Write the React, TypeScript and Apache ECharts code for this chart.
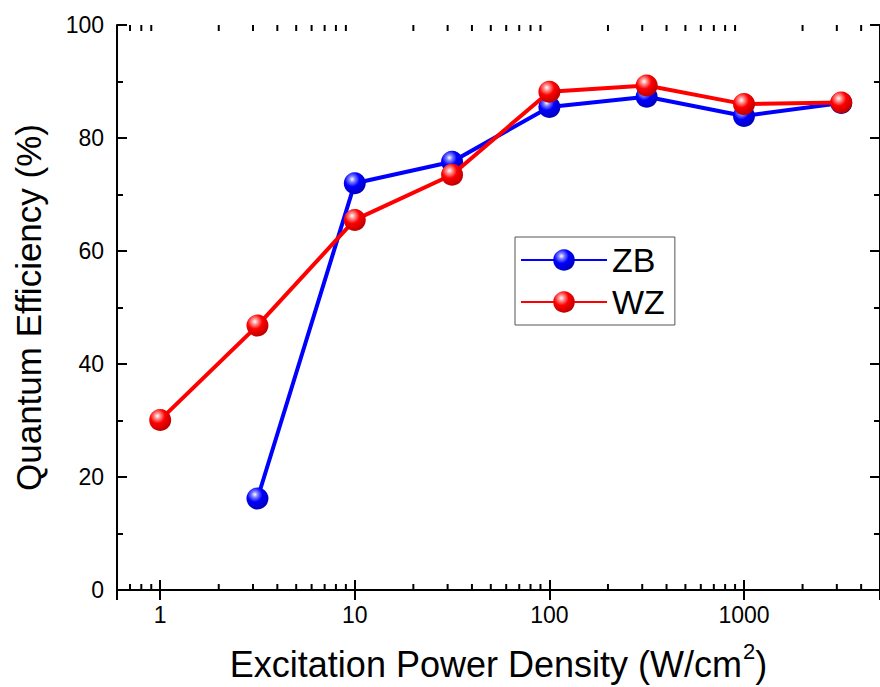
import React, { useEffect, useRef } from "react";
import * as echarts from "echarts";

const xValues = [1, 3.162, 10, 31.62, 100, 316.2, 1000, 3162];
const zbX = [3.162, 10, 31.62, 100, 316.2, 1000, 3162];
const zbValues = [16.2, 72.0, 75.8, 85.5, 87.3, 83.9, 86.2];
const wzX = xValues;
const wzValues = [30.1, 46.8, 65.5, 73.5, 88.2, 89.3, 86.0, 86.3];
const xTickLabels = [1, 10, 100, 1000];
const minorXTicks = [
  0.7, 0.8, 0.9,
  2, 3, 4, 5, 6, 7, 8, 9,
  20, 30, 40, 50, 60, 70, 80, 90,
  200, 300, 400, 500, 600, 700, 800, 900,
  2000, 3000, 4000,
];

const FONT = "'Liberation Sans', Arial, Helvetica, sans-serif";

function sphere(color: string, light: string, dark: string) {
  return new echarts.graphic.RadialGradient(0.38, 0.32, 0.75, [
    { offset: 0, color: "#ffffff" },
    { offset: 0.18, color: light },
    { offset: 0.45, color: color },
    { offset: 1, color: dark },
  ]);
}

export default function App() {
  const ref = useRef<HTMLDivElement>(null);
  useEffect(() => {
    if (!ref.current) return;
    const chart = echarts.init(ref.current, undefined, { renderer: "svg" });
    const axisLine = { show: true, lineStyle: { color: "#000", width: 2 } };
    const xCommon: any = {
      type: "log",
      logBase: 10,
      min: 0.6,
      max: 5000,
      axisLine,
      axisTick: { show: true, inside: true, length: 10, lineStyle: { color: "#000", width: 2 } },
      splitLine: { show: false },
    };
    const yCommon: any = {
      type: "value",
      min: 0,
      max: 100,
      interval: 20,
      axisLine,
      axisTick: { show: true, inside: true, length: 10, lineStyle: { color: "#000", width: 2 } },
      minorTick: { show: true, splitNumber: 2, length: 6, lineStyle: { color: "#000", width: 2 } },
      splitLine: { show: false },
    };
    chart.setOption({
      animation: false,
      backgroundColor: "#fff",
      textStyle: { fontFamily: FONT },
      grid: { left: 117, top: 25, right: -9, bottom: 97 },
      legend: {
        data: ["ZB", "WZ"],
        orient: "vertical",
        left: 515,
        top: 237,
        itemWidth: 86,
        itemHeight: 27,
        itemGap: 8,
        padding: [6, 10, 6, 5],
        borderColor: "#555",
        borderWidth: 1,
        textStyle: { fontSize: 34, fontFamily: FONT, color: "#000" },
      },
      xAxis: [
        {
          ...xCommon,
          position: "bottom",
          name: "{a|Excitation Power Density (W/cm}{s|2}{a|)}",
          nameLocation: "middle",
          nameGap: 50,
          nameTextStyle: {
            rich: {
              a: { fontSize: 36, fontFamily: FONT, color: "#000", lineHeight: 42, verticalAlign: "bottom" },
              s: { fontSize: 22, fontFamily: FONT, color: "#000", lineHeight: 42, verticalAlign: "top", padding: [0, 0, 0, 1] },
            },
          },
          axisLabel: {
            show: true,
            fontSize: 23,
            color: "#000",
            fontFamily: FONT,
            margin: 13,
            showMinLabel: false,
            showMaxLabel: false,
            formatter: (v: number) => {
              const r = Math.round(v);
              return xTickLabels.indexOf(r) >= 0 ? String(r) : "";
            },
          },
        },
        {
          ...xCommon,
          position: "top",
          axisLabel: { show: false },
        },
      ],
      yAxis: [
        {
          ...yCommon,
          position: "left",
          name: "Quantum Efficiency (%)",
          nameLocation: "middle",
          nameGap: 71,
          nameTextStyle: { fontSize: 35, color: "#000", fontFamily: FONT },
          axisLabel: { show: true, fontSize: 23, color: "#000", fontFamily: FONT, margin: 13 },
        },
        {
          ...yCommon,
          position: "right",
          axisLabel: { show: false },
        },
      ],
      series: [
        {
          type: "custom",
          silent: true,
          xAxisIndex: 0,
          yAxisIndex: 0,
          z: 1,
          data: minorXTicks.map((v) => [v, 0]),
          renderItem: (params: any, api: any) => {
            const x = api.value(0);
            const pb = api.coord([x, 0]);
            const pt = api.coord([x, 100]);
            const style = { stroke: "#000", lineWidth: 2 };
            return {
              type: "group",
              children: [
                { type: "line", shape: { x1: pb[0], y1: pb[1], x2: pb[0], y2: pb[1] - 6 }, style },
                { type: "line", shape: { x1: pt[0], y1: pt[1], x2: pt[0], y2: pt[1] + 6 }, style },
              ],
            };
          },
        },
        {
          name: "ZB",
          type: "line",
          z: 3,
          data: zbX.map((x, i) => [x, zbValues[i]]),
          symbol: "circle",
          symbolSize: 22,
          lineStyle: { color: "#0000ff", width: 4 },
          itemStyle: { color: sphere("#0000ff", "#8080ff", "#0000b0") },
        },
        {
          name: "WZ",
          type: "line",
          z: 4,
          data: wzX.map((x, i) => [x, wzValues[i]]),
          symbol: "circle",
          symbolSize: 22,
          lineStyle: { color: "#ff0000", width: 4 },
          itemStyle: { color: sphere("#ff0000", "#ff9090", "#b00000") },
        },
      ],
    });
    return () => chart.dispose();
  }, []);
  return (
    <div
      ref={ref}
      style={{ position: "fixed", left: 0, top: 0, width: 880, height: 687 }}
    />
  );
}
